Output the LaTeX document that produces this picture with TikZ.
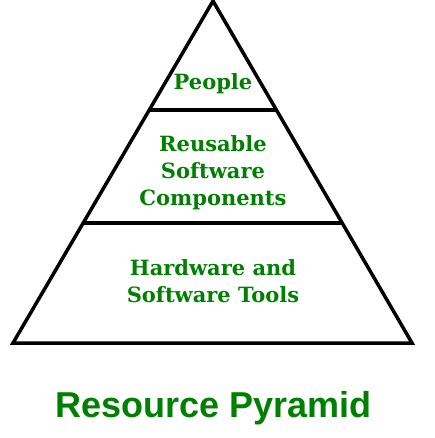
\documentclass[tikz,border=0pt]{standalone}
\usepackage{fontspec}
\usetikzlibrary{calc}
\newfontfamily\levelfont{DejaVu Serif}
\newfontfamily\titlefont{Liberation Sans}
\definecolor{pyrgreen}{RGB}{0,128,0}
\tikzset{
    edge/.style={line width=3.5pt, black, line join=miter},
    level/.style={text=pyrgreen, align=center, inner sep=0pt,
        font=\levelfont\bfseries\fontsize{21}{27}\selectfont},
    caption/.style={text=pyrgreen, inner sep=0pt,
        font=\titlefont\bfseries\fontsize{36}{42}\selectfont}
}
\begin{document}
\begin{tikzpicture}[x=1pt,y=-1pt]
            \useasboundingbox (0,0) rectangle (434,438);
            %pyramid corners
            \coordinate (apex) at (213,1);
            \coordinate (baseL) at (13,343);
            \coordinate (baseR) at (412,343);
            %level borders
            \coordinate (topL) at ($(apex)!0.319!(baseL)$);
            \coordinate (topR) at ($(apex)!0.319!(baseR)$);
            \coordinate (midL) at ($(apex)!0.649!(baseL)$);
            \coordinate (midR) at ($(apex)!0.649!(baseR)$);
            %
            \draw [edge] (baseL) -- (apex) -- (baseR) -- cycle;
            \draw [edge] (topL) -- (topR);
            \draw [edge] (midL) -- (midR);
            %levels
            \node [level, anchor=base] (people) at (213,90) {People};
            \node [level] (components) at (213,173) {Reusable\\Software\\Components};
            \node [level] (tools) at (213,281) {Hardware and\\Software Tools};
            %title
            \node [caption, anchor=base] (title) at (213.5,417) {Resource Pyramid};
            %
        \end{tikzpicture}
\end{document}
